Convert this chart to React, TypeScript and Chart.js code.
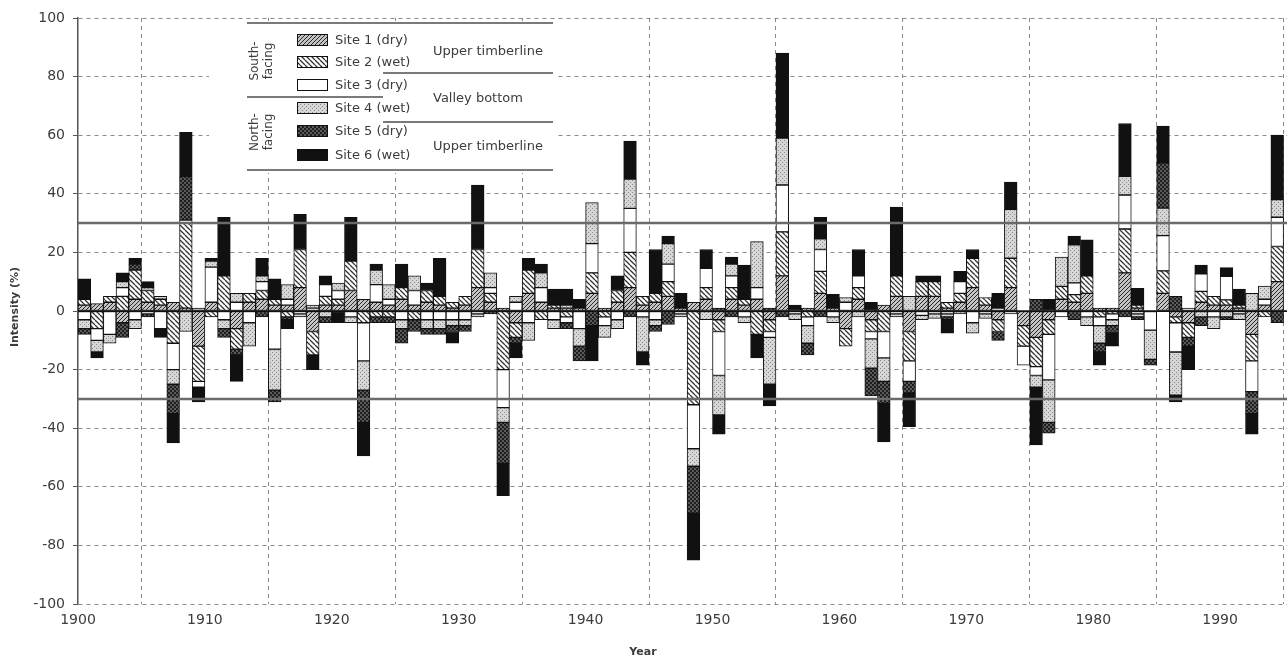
import React, { useEffect, useRef } from 'react';
import { Chart, registerables } from 'chart.js';

Chart.register(...registerables);

const START_YEAR = 1900;
const X_MIN = 1900;
const X_MAX = 1995.27;
const Y_MIN = -100;
const Y_MAX = 100;
const THRESHOLDS = [30, -30];

const SITE_LABELS = ['Site 1 (dry)', 'Site 2 (wet)', 'Site 3 (dry)', 'Site 4 (wet)', 'Site 5 (dry)', 'Site 6 (wet)'];
const ASPECT_LABELS = [['South-', 'facing'], ['North-', 'facing']];
const ZONE_LABELS = ['Upper timberline', 'Valley bottom', 'Upper timberline'];
const X_TITLE = 'Year';
const Y_TITLE = 'Intensity (%)';

const SITE1 = [
  2, 2.5, 3, -4, 4, 3, 2, 3, 1, -12,
  3, 0, -6, 3, 4, 2, 2, 8, -7, 2,
  2, 7, 4, 3, 2, 4, 2, 3, 2, 1,
  2, 8, 3, 1, -4, 6, 3, 1, 1, 1,
  6, 1, 3, 8, 2, 3, 5, 1, 3, 4,
  -3, 4, 2, 4, -3, 12, 0, 1, 6, 1,
  -6, 4, -3, 2, 5, -7, 5, 5, 1, 3,
  8, 2, -3, 8, -5, -9, -3, 4, 3, 6,
  1, 1, 13, 1, 0, 6, -2, -4, 3, 2,
  2, 1, -8, 2, 10,
];
const SITE2 = [
  2, -6, 2, 5, 10, 4, 2, -11, 29, -12,
  -2, 12, -7, 3, 3, 2, -2, 13, -8, 3,
  2, 10, -4, -2, -2, 4, -3, 4, 3, 2,
  3, 13, 3, -20, -5, 8, -3, 1, -2, 0,
  7, -2, 4, 12, 3, 3, 5, 0, -32, 4,
  -4, 4, 2, -8, -4, 15, 0, -2, 7.5, 0,
  -6, 4, -4, -7, 7, -10, 5, 5, 2, 3,
  10, 2.6, -4, 10, -7, -10, -5, 4.4, 2.6, 6,
  -2, -1, 15, 1, 0, 7.7, -2, -5, 3.7, 3,
  1.8, 1, -9, -2, 12,
];
const SITE3 = [
  -3, -4, -8, 3, -3, -1, -6, -9, 1, -2,
  12, -3, 3, -4, 3, -13, 2, -1, 1, 4,
  3, -2, -13, 6, 2, -3, 5, -3, -3, -3,
  -3, -1, 2, -13, 3, -4, 5, -3, -2, -6,
  10, -3, -3, 15, -2, -3, 6, -1, -15, 6.6,
  -15, 4, -2, 4, -2, 16, -1, -3, 7.5, -2,
  3, 4, -2.5, -9, -1, -7, -1.5, -1, -1, 4,
  -4, -1, 1, -1, -6.5, -3, -15.5, -2, 4, -2,
  -3, -2, 11.6, -1, -6.5, 12, -10, 1, 6, -2,
  8, -1, -10.5, 2, 10,
];
const SITE4 = [
  -3, -4, -3, 2, -3, 1, 1, -5, -7, 1,
  2, -3, 3, -8, 2, -14, 5, -1, 1, -2,
  2.5, -2, -10, 5, 5, -3, 5, -3, -3, -2,
  -2, -1, 5, -5, 2, -6, 5, -3, 1, -6,
  14, -4, -3, 10, -12, -2, 7, -1, -6, -3,
  -13.5, 4, -2, 15.7, -16, 16, -2, -6, 3.6, -2,
  1.6, -2, -10, -8, -1, 5, -1.5, -1.5, -1, -1,
  -3.6, -1.5, 0, 16.7, 0, -4, -14.5, 10, 13, -3,
  -6, -2, 6.4, -1, -10, 9.4, -14.7, 0, -2, -4,
  -2, -2, 6, 4.5, 6,
];
const SITE5 = [
  -2, 0, 0, -5, 2, -1, 0, -10, 15, 0,
  0, -3, -2, 0, -2, -4, -1, 0, 0, -2,
  0, 0, -11, -2, -2, -5, -4, -2, -2, -2,
  -2, 0, -1, -14, -2, 0, 0, 0, -2, -5,
  -5, 0, 0, -2, 0, -2, -4.6, 0, -16, 0,
  1, -2, 0, 0, 1, -2, 0, -4, -2, 0,
  0, 0, -9.5, -7.5, 0, -4, 0, 0, -1, 0,
  0, 0, -3, 0, 0, 4, -3.7, 0, -3, 0,
  -3, -2, -2, -1, -2, 15.5, 5, -3, -3, 0,
  -1, 0, -7.5, 0, -4,
];
const SITE6 = [
  7, -2, 0, 3, 2, 2, -3, -10, 15, -5,
  1, 20, -9, 0, 6, 7, -3, 12, -5, 3,
  -4, 15, -11.5, 2, 0, 8, 0, 2.5, 13, -4,
  0, 22, 0, -11, -5, 4, 3, 5.5, 5.5, 3,
  -12, 0, 5, 13, -4.5, 15, 2.6, 5, -16, 6.4,
  -6.5, 2.4, 11.7, -8, -7.4, 29, 2, 0, 7.4, 4.7,
  0, 9, 3, -13.2, 23.5, -11.5, 2, 2, -4.6, 3.5,
  3, 0, 5, 9.3, 0, -19.7, 4, 0, 3, 12.3,
  -4.5, -5, 18, 5.7, 0, 12.5, -2.3, -8, 3, 0,
  3, 5.5, -7, 0, 22,
];

const SERIES = [SITE1, SITE2, SITE3, SITE4, SITE5, SITE6];

const FONT = '"DejaVu Sans", "Liberation Sans", Arial, sans-serif';
const TEXT_COLOR = '#3c3c3c';

function tile(host: CanvasRenderingContext2D, size: number, draw: (g: CanvasRenderingContext2D, n: number) => void) {
  const c = document.createElement('canvas');
  c.width = size;
  c.height = size;
  const g = c.getContext('2d')!;
  draw(g, size);
  return host.createPattern(c, 'repeat') as CanvasPattern;
}

function makeFills(host: CanvasRenderingContext2D): (CanvasPattern | string)[] {
  const s1 = tile(host, 4, (g, n) => {
    g.fillStyle = '#c4c4c4';
    g.fillRect(0, 0, n, n);
    g.strokeStyle = '#2a2a2a';
    g.lineWidth = 1;
    g.beginPath();
    for (const k of [-n, 0, n]) {
      g.moveTo(k, n);
      g.lineTo(k + n, 0);
    }
    g.stroke();
  });
  const s2 = tile(host, 5, (g, n) => {
    g.fillStyle = '#ffffff';
    g.fillRect(0, 0, n, n);
    g.strokeStyle = '#333333';
    g.lineWidth = 1.3;
    g.beginPath();
    for (const k of [-n, 0, n]) {
      g.moveTo(k, 0);
      g.lineTo(k + n, n);
    }
    g.stroke();
  });
  const s4 = tile(host, 4, (g, n) => {
    g.fillStyle = '#d6d6d6';
    g.fillRect(0, 0, n, n);
    g.fillStyle = '#8a8a8a';
    g.fillRect(0, 0, 1, 1);
    g.fillRect(2, 2, 1, 1);
  });
  const s5 = tile(host, 4, (g, n) => {
    g.fillStyle = '#5a5a5a';
    g.fillRect(0, 0, n, n);
    g.fillStyle = '#1e1e1e';
    g.fillRect(0, 0, 2, 2);
    g.fillRect(2, 2, 2, 2);
  });
  return [s1, s2, '#ffffff', s4, s5, '#111111'];
}

export default function App() {
  const ref = useRef<HTMLCanvasElement>(null);

  useEffect(() => {
    const canvas = ref.current!;
    const host = canvas.getContext('2d')!;
    const fills = makeFills(host);

    const datasets = SERIES.map((vals, k) => ({
      label: SITE_LABELS[k],
      data: vals.map((v, i) => ({ x: START_YEAR + i + 0.5, y: v === 0 ? null : v })),
      backgroundColor: fills[k],
      borderColor: '#111111',
      borderWidth: 1,
      borderSkipped: false,
      barPercentage: 1,
      categoryPercentage: 1,
    }));

    const overlay = {
      id: 'overlay',
      afterDatasetsDraw(chart: any) {
        const { ctx, chartArea: a, scales } = chart;
        const y = scales.y;
        ctx.save();
        ctx.strokeStyle = '#111';
        ctx.lineWidth = 1.5;
        const y0 = y.getPixelForValue(0);
        ctx.beginPath();
        ctx.moveTo(a.left, y0);
        ctx.lineTo(a.right, y0);
        ctx.stroke();
        ctx.strokeStyle = '#6a6a6a';
        ctx.lineWidth = 2.5;
        for (const t of THRESHOLDS) {
          const yy = y.getPixelForValue(t);
          ctx.beginPath();
          ctx.moveTo(a.left, yy);
          ctx.lineTo(a.right, yy);
          ctx.stroke();
        }
        ctx.restore();
      },
      afterDraw(chart: any) {
        const { ctx } = chart;
        ctx.save();
        // legend background
        ctx.fillStyle = '#ffffff';
        ctx.fillRect(209, 21, 348, 152);
        // rules
        ctx.strokeStyle = '#7a7a7a';
        ctx.lineWidth = 2;
        const rule = (x1: number, x2: number, yy: number) => {
          ctx.beginPath();
          ctx.moveTo(x1, yy);
          ctx.lineTo(x2, yy);
          ctx.stroke();
        };
        rule(247, 553, 23);
        rule(383, 553, 73);
        rule(247, 383, 97);
        rule(383, 553, 122);
        rule(247, 553, 170);
        // aspect labels (rotated)
        ctx.fillStyle = TEXT_COLOR;
        ctx.font = `12px ${FONT}`;
        ctx.textAlign = 'center';
        ctx.textBaseline = 'middle';
        const aspectY = [61, 132];
        ASPECT_LABELS.forEach((lines, gi) => {
          lines.forEach((txt, li) => {
            ctx.save();
            ctx.translate(255 + li * 14, aspectY[gi]);
            ctx.rotate(-Math.PI / 2);
            ctx.fillText(txt, 0, 0);
            ctx.restore();
          });
        });
        // swatches + site labels
        const rowY = [40, 62, 85, 108, 131, 155];
        ctx.textAlign = 'left';
        ctx.font = `13px ${FONT}`;
        rowY.forEach((ry, i) => {
          ctx.fillStyle = fills[i] as any;
          ctx.fillRect(297, ry - 5.5, 30, 11);
          ctx.strokeStyle = '#111';
          ctx.lineWidth = 1;
          ctx.strokeRect(297.5, ry - 5.5, 30, 11);
          ctx.fillStyle = TEXT_COLOR;
          ctx.fillText(SITE_LABELS[i], 335, ry + 1);
        });
        // zone labels
        const zoneY = [52, 99, 147];
        ZONE_LABELS.forEach((txt, i) => {
          ctx.fillText(txt, 433, zoneY[i]);
        });
        // axis titles
        ctx.font = `bold 11px ${FONT}`;
        ctx.textAlign = 'center';
        ctx.fillText(X_TITLE, 643, 652);
        ctx.save();
        ctx.translate(15, 307);
        ctx.rotate(-Math.PI / 2);
        ctx.fillText(Y_TITLE, 0, 0);
        ctx.restore();
        ctx.restore();
      },
    };

    const chart = new Chart(canvas, {
      type: 'bar',
      data: { datasets } as any,
      options: {
        responsive: false,
        animation: false,
        layout: { padding: { top: 18, right: 0, bottom: 0, left: 0 } },
        plugins: { legend: { display: false }, tooltip: { enabled: false } },
        scales: {
          x: {
            type: 'linear',
            stacked: true,
            min: X_MIN,
            max: X_MAX,
            offset: false,
            afterFit: (s: any) => { s.height = 56; },
            ticks: {
              stepSize: 10,
              includeBounds: false,
              autoSkip: false,
              maxRotation: 0,
              padding: 8,
              color: TEXT_COLOR,
              font: { family: FONT, size: 14 },
              callback: (v: any) => String(v),
            },
            grid: { color: '#8a8a8a', lineWidth: 1, drawTicks: false },
            border: { display: false, dash: [4, 4] },
          },
          y: {
            stacked: true,
            min: Y_MIN,
            max: Y_MAX,
            afterFit: (s: any) => { s.width = 78; },
            ticks: {
              stepSize: 20,
              padding: 8,
              color: TEXT_COLOR,
              font: { family: FONT, size: 14 },
            },
            grid: {
              color: (c: any) => (c.tick && c.tick.value === 0 ? '#111' : '#8a8a8a'),
              lineWidth: 1,
              tickLength: 5,
              tickColor: '#555',
            },
            border: {
              display: true,
              color: '#555',
              width: 1.5,
              dash: (c: any) => (c.tick && c.tick.value === 0 ? [] : [4, 4]),
            },
          },
        },
      } as any,
      plugins: [overlay],
    });

    return () => chart.destroy();
  }, []);

  return (
    <div style={{ position: 'absolute', left: 0, top: 0, width: 1287, height: 660 }}>
      <canvas ref={ref} width={1287} height={660} style={{ display: 'block' }} />
    </div>
  );
}
